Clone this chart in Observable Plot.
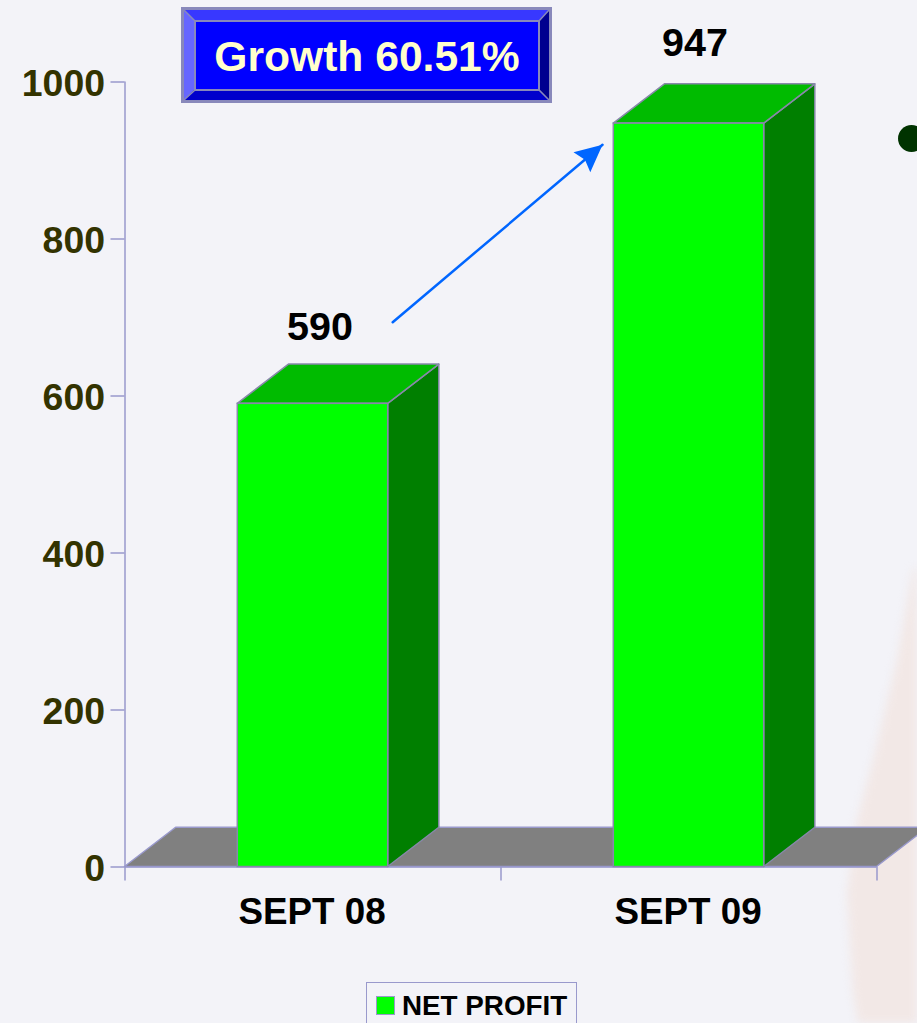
<!DOCTYPE html>
<html>
<head>
<meta charset="utf-8">
<script src="https://cdn.jsdelivr.net/npm/d3@7"></script>
<script src="https://cdn.jsdelivr.net/npm/@observablehq/plot@0.6"></script>
<style>
html,body{margin:0;padding:0;width:917px;height:1023px;overflow:hidden;background:#f3f3f8;font-family:"Liberation Sans",Arial,sans-serif}
#wash{position:absolute;left:0;top:0;width:917px;height:1023px;filter:blur(4px);overflow:hidden}
#wash div{position:absolute;inset:0;background:#f2e8e6;clip-path:polygon(925px 560px,913px 570px,897px 660px,873px 760px,857px 820px,847px 893px,853px 993px,860px 1035px,925px 1035px)}
#chart{position:absolute;left:0;top:0}
#chart svg{display:block;overflow:visible}
#bullet{position:absolute;left:898px;top:125px;width:27px;height:27px;border-radius:50%;background:#003300}
#badge{position:absolute;left:181px;top:7px}
#legend{position:absolute;left:366px;top:982px;width:209px;height:60px;border:1px solid #9999cc;box-sizing:content-box}
#legend i{position:absolute;left:9px;top:13px;width:17px;height:17px;background:#00ff00;border:1px solid #9999cc}
#legend span{position:absolute;left:35px;top:6px;font-weight:bold;font-size:27.8px;line-height:33px;color:#000;white-space:nowrap}
</style>
</head>
<body>
<div id="wash"><div></div></div>
<div id="bullet"></div>
<div id="chart"></div>
<svg id="badge" width="371" height="96" viewBox="0 0 371 96">
  <rect x="1.5" y="1.5" width="368" height="93" fill="#8888bb"/>
  <polygon points="3,3 368,3 358,14 14,14" fill="#3838ff"/>
  <polygon points="3,3 14,14 14,82 3,93" fill="#6666ff"/>
  <polygon points="368,3 368,93 358,82 358,14" fill="#00008f"/>
  <polygon points="3,93 14,82 358,82 368,93" fill="#0000cc"/>
  <rect x="14" y="14" width="344" height="69" fill="#0000ff" stroke="#8888bb" stroke-width="2"/>
  <path d="M3 3L14 14M368 3L358 14M3 93L14 83M368 93L358 83" stroke="#8888bb" stroke-width="1.5"/>
  <rect x="1.5" y="1.5" width="368" height="93" fill="none" stroke="#8888bb" stroke-width="3"/>
  <text x="186" y="64" text-anchor="middle" font-family="Liberation Sans, Arial, sans-serif" font-weight="bold" font-size="42.6" fill="#ffffcc">Growth 60.51%</text>
</svg>
<div id="legend"><i></i><span>NET PROFIT</span></div>
<script>
const categories = ["SEPT 08", "SEPT 09"];
const netProfit = [590, 947];
const centers = [0.5, 1.5];
const yTicks = [0, 200, 400, 600, 800, 1000];
const xTicks = [0, 1, 2];
const arrowFrom = {x: 0.712, value: 694};
const arrowTo = {x: 1.27, value: 920};

const barHalf = 0.2, depthX = 0.136, depthY = 50;
const bars = categories.map((category, i) => ({
  category, value: netProfit[i],
  left: centers[i] - barHalf, right: centers[i] + barHalf
}));
const sideFaces = bars.flatMap(b => [
  {category: b.category, x: b.right, y1: 0, y2: b.value},
  {category: b.category, x: b.right + depthX, y1: depthY, y2: b.value + depthY}
]);
const topFaces = bars.flatMap(b => [
  {category: b.category, x1: b.left, x2: b.right, y: b.value},
  {category: b.category, x1: b.left + depthX, x2: b.right + depthX, y: b.value + depthY}
]);
const floor = [
  {x1: 0, x2: 2, y: 0},
  {x1: depthX, x2: 2 + depthX, y: depthY}
];
const axisColor = "#9999cc", edge = "#8888aa";
const labelFont = {fontFamily: "Liberation Sans, Arial, sans-serif", fontWeight: "bold"};

const arrowHead = (color) => {
  const m = d3.create("svg:marker")
    .attr("viewBox", "-29 -15 31 30")
    .attr("markerWidth", 31).attr("markerHeight", 30)
    .attr("markerUnits", "userSpaceOnUse")
    .attr("orient", "auto");
  m.append("path").attr("d", "M0 0L-27 -13L-23 0L-27 13Z").attr("fill", color).attr("stroke", "none");
  return m.node();
};

const plot = Plot.plot({
  width: 917, height: 975,
  marginLeft: 124.5, marginRight: 40.5, marginTop: 81.5, marginBottom: 108.5,
  x: {type: "linear", domain: [0, 2], axis: null},
  y: {type: "linear", domain: [0, 1000], axis: null},
  style: {background: "transparent", overflow: "visible"},
  marks: [
    Plot.area(floor, {x1: "x1", x2: "x2", y1: "y", y2: "y", fill: "#808080", stroke: axisColor, strokeWidth: 1.5, curve: "linear"}),
    Plot.ruleX([0], {y1: 0, y2: 1000, stroke: axisColor, strokeWidth: 1.5}),
    Plot.ruleY(yTicks, {y: d => d, x1: 0, x2: 0, insetLeft: -14, stroke: axisColor, strokeWidth: 1.5}),
    Plot.ruleY([0], {x1: 0, x2: 2, stroke: axisColor, strokeWidth: 1.5}),
    Plot.ruleX(xTicks, {x: d => d, y1: 0, y2: 0, insetBottom: -14, stroke: axisColor, strokeWidth: 1.5}),
    Plot.area(sideFaces, {x1: "x", x2: "x", y1: "y1", y2: "y2", z: "category", fill: "#007f00", stroke: edge, strokeWidth: 1.5, curve: "linear"}),
    Plot.area(topFaces, {x1: "x1", x2: "x2", y1: "y", y2: "y", z: "category", fill: "#00bb00", stroke: edge, strokeWidth: 1.5, curve: "linear"}),
    Plot.rect(bars, {x1: "left", x2: "right", y1: 0, y2: "value", fill: "#00ff00", stroke: edge, strokeWidth: 1.5}),
    Plot.text(yTicks, {x: 0, y: d => d, text: d => String(d), textAnchor: "end", dx: -20, dy: 2, fontSize: 37.4, fill: "#333300", ...labelFont}),
    Plot.text(bars, {x: d => (d.left + d.right) / 2, y: 0, text: "category", dx: -1, dy: 45, fontSize: 36.8, fill: "#000", ...labelFont}),
    Plot.text(bars.slice(0, 1), {x: d => (d.left + d.right) / 2, y: "value", text: d => String(d.value), dx: 7, dy: -76, fontSize: 39.5, fill: "#000", ...labelFont}),
    Plot.text(bars.slice(1), {x: d => (d.left + d.right) / 2, y: "value", text: d => String(d.value), dx: 6, dy: -80, fontSize: 39.5, fill: "#000", ...labelFont}),
    Plot.line([arrowFrom, arrowTo], {x: "x", y: "value", stroke: "#0066ff", strokeWidth: 2.5, markerEnd: arrowHead, curve: "linear"})
  ]
});
document.getElementById("chart").append(plot);
</script>
</body>
</html>
